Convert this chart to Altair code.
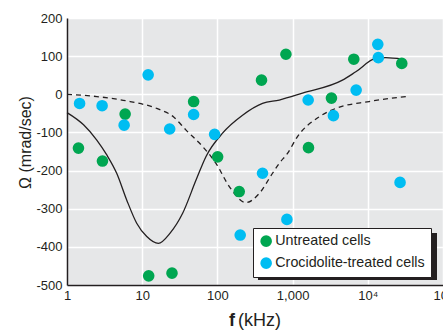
import altair as alt
import pandas as pd

# ---- data ----
green_x = [1.42, 2.96, 5.93, 12.2, 24.9, 48.3, 100.7, 195, 386, 815, 1626, 3285, 6515, 28300]
green_y = [-141, -175, -52, -476, -469, -19, -164, -255, 37, 105, -140, -10, 92, 81]

cyan_x = [1.47, 2.93, 5.75, 12.0, 23.2, 48.3, 91.8, 201, 398, 840, 1611, 3490, 7000, 13580, 13800, 26850]
cyan_y = [-24, -30, -81, 51, -91, -53, -105, -369, -207, -328, -15, -56, 11, 131, 96, -231]

solid_x = [1.0, 1.66, 2.49, 3.38, 4.58, 6.22, 8.45, 11.5, 16.4, 23.5, 34.5, 52, 70.6, 117, 216, 398, 664,
           1353, 4600, 6930, 12770, 17330, 28800]
solid_y = [-48, -80, -120, -159, -207, -277, -338, -373, -391, -364, -312, -225, -163, -102, -55, -24, -15,
           3, 37, 59, 94, 96, 92]

dash_x = [1.0, 2.49, 6.9, 15.6, 26, 38.3, 63.6, 95.8, 144, 240, 360, 541, 664, 855, 1161, 2255, 3757, 10400, 32000]
dash_y = [0, -6, -19, -37, -59, -94, -137, -181, -242, -284, -260, -207, -181, -155, -111, -59, -37, -19, -6]

series_names = ["Untreated cells", "Crocidolite-treated cells"]
series_colors = ["#00a651", "#00bdf2"]

x_tick_values = [1, 10, 100, 1000, 10000, 100000]
x_tick_labels = ["1", "10", "100", "1,000", "10\u2074", "10\u2075"]
y_tick_values = [-500, -400, -300, -200, -100, 0, 100, 200]

FONT = "Liberation Sans"
TXT = "#231f20"

# ---- tables ----
pts = pd.concat([
    pd.DataFrame({"f": green_x, "omega": green_y, "series": series_names[0]}),
    pd.DataFrame({"f": cyan_x, "omega": cyan_y, "series": series_names[1]}),
])
solid = pd.DataFrame({"f": solid_x, "omega": solid_y})
dashed = pd.DataFrame({"f": dash_x, "omega": dash_y})

label_expr = ""
for v, l in zip(x_tick_values[:-1], x_tick_labels[:-1]):
    label_expr += f"datum.value == {v} ? '{l}' : "
label_expr += f"'{x_tick_labels[-1]}'"

xscale = alt.Scale(type="log", domain=[1, 100000])
yscale = alt.Scale(domain=[-500, 200], nice=False, zero=False)

xaxis = alt.Axis(values=x_tick_values, labelExpr=label_expr, title=None,
                 labelFontSize=13, labelPadding=4, labelFlush=False, labelOverlap=False)
yaxis = alt.Axis(values=y_tick_values, labelExpr="'' + datum.value", labelOverlap=False,
                 title="\u03a9 (mrad/sec)", titleFontSize=16, titleFontWeight="normal",
                 titleX=-34, titleY=124, titleAngle=-90, titleBaseline="bottom",
                 labelFontSize=13, labelPadding=5)


def xe():
    return alt.X("f:Q", scale=xscale, axis=xaxis)


def ye():
    return alt.Y("omega:Q", scale=yscale, axis=yaxis)


one = pd.DataFrame({"a": [0]})

shadow = alt.Chart(one).mark_rect(color="#231f20").encode(
    x=alt.value(191), x2=alt.value(370), y=alt.value(215), y2=alt.value(262)
)

solid_line = alt.Chart(solid).mark_line(color="#231f20", strokeWidth=1.3, interpolate="monotone").encode(
    x=xe(), y=ye(), order="f:Q"
)
dash_line = alt.Chart(dashed).mark_line(color="#231f20", strokeWidth=1.3, strokeDash=[5, 4],
                                         interpolate="monotone").encode(
    x=xe(), y=ye(), order="f:Q"
)

points = alt.Chart(pts).mark_circle(size=135, opacity=1).encode(
    x=xe(), y=ye(),
    color=alt.Color("series:N",
                    scale=alt.Scale(domain=series_names, range=series_colors),
                    legend=alt.Legend(title=None, orient="none", legendX=186, legendY=210,
                                      strokeColor="#231f20", fillColor="white", padding=6,
                                      labelFontSize=14.3, labelFont=FONT, labelColor=TXT,
                                      symbolType="circle", symbolSize=135, symbolStrokeWidth=0,
                                      symbolOpacity=1, rowPadding=7, labelOffset=2, labelLimit=300)),
    order=alt.Order("series:N", sort="descending"),
)

xt_f = alt.Chart(one).mark_text(text="f", font=FONT, fontSize=18, fontWeight="bold", color=TXT,
                                align="right", baseline="alphabetic").encode(
    x=alt.value(168), y=alt.value(308)
)
xt_rest = alt.Chart(one).mark_text(text="(kHz)", font=FONT, fontSize=18, color=TXT,
                                   align="left", baseline="alphabetic").encode(
    x=alt.value(171), y=alt.value(308)
)

chart = alt.layer(shadow, solid_line, dash_line, points, xt_f, xt_rest).properties(
    width=376, height=267,
    padding={"left": 67, "top": 18, "right": 0, "bottom": 46},
    autosize=alt.AutoSizeParams(type="none"),
    background="white",
).configure_view(
    fill="#e6e7e8", stroke=None
).configure_axis(
    grid=True, gridColor="white", gridWidth=1.5, gridOpacity=1,
    domainColor="#231f20", domainWidth=1.5, ticks=False, labelOverlap=False,
    labelFont=FONT, titleFont=FONT, labelColor=TXT, titleColor=TXT,
)

chart.save("out.html", embed_options={"renderer": "svg", "actions": False})
